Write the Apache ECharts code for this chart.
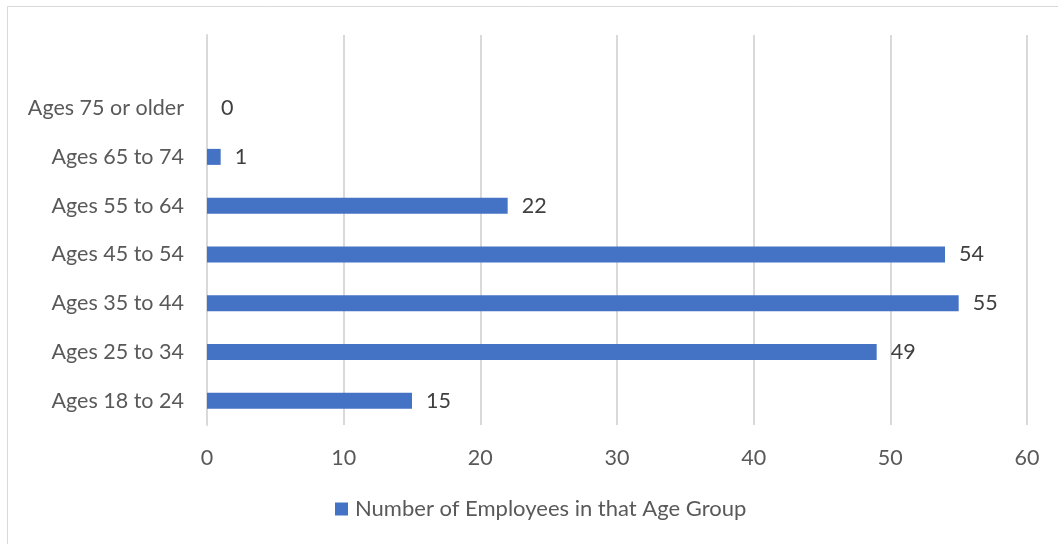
<!DOCTYPE html>
<html>
<head>
<meta charset="utf-8">
<style>
  html, body { margin: 0; padding: 0; background: #ffffff; }
  #chart { width: 1058px; height: 544px; }
</style>
<script src="https://cdn.jsdelivr.net/npm/echarts@6/dist/echarts.min.js"></script>
</head>
<body>
<div id="chart"></div>
<script>
// Age groups, bottom to top; the last slot is an unlabelled spacer row
const categories = ['Ages 18 to 24', 'Ages 25 to 34', 'Ages 35 to 44', 'Ages 45 to 54',
                    'Ages 55 to 64', 'Ages 65 to 74', 'Ages 75 or older', ''];
const employees = [15, 49, 55, 54, 22, 1, 0, '-'];
const seriesName = 'Number of Employees in that Age Group';
const xTicks = { min: 0, max: 60, interval: 10 };

const textColor = '#595959';
const fontFamily = 'Lato, "Noto Sans", sans-serif';

const chart = echarts.init(document.getElementById('chart'), null, { renderer: 'canvas' });
chart.setOption({
  animation: false,
  backgroundColor: '#ffffff',
  textStyle: { fontFamily: fontFamily, color: textColor },
  graphic: [{
    type: 'rect',
    shape: { x: 7.5, y: 6.5, width: 1060, height: 560 },
    style: { fill: 'none', stroke: '#d9d9d9', lineWidth: 1 },
    silent: true
  }],
  grid: { left: 207, right: 31, top: 35, bottom: 119, containLabel: false },
  legend: {
    bottom: 19,
    left: 330,
    itemWidth: 13,
    itemHeight: 13,
    itemGap: 10,
    icon: 'rect',
    textStyle: { fontSize: 22, color: textColor, fontFamily: fontFamily, padding: [0, 0, 0, 2] },
    data: [seriesName]
  },
  xAxis: {
    type: 'value',
    min: xTicks.min,
    max: xTicks.max,
    interval: xTicks.interval,
    axisLine: { show: false },
    axisTick: { show: false },
    axisLabel: { fontSize: 21.5, color: textColor, margin: 22 },
    splitLine: { lineStyle: { color: '#d9d9d9', width: 2 } }
  },
  yAxis: {
    type: 'category',
    data: categories,
    axisLine: { show: true, lineStyle: { color: '#d9d9d9', width: 2 } },
    axisTick: { show: false },
    axisLabel: { fontSize: 21.5, color: textColor, margin: 23 }
  },
  series: [{
    name: seriesName,
    type: 'bar',
    data: employees,
    barWidth: 16,
    itemStyle: { color: '#4472c4' },
    label: {
      show: true,
      position: 'right',
      distance: 14,
      fontSize: 21.5,
      color: '#404040',
      fontFamily: fontFamily
    }
  }]
});
</script>
</body>
</html>
